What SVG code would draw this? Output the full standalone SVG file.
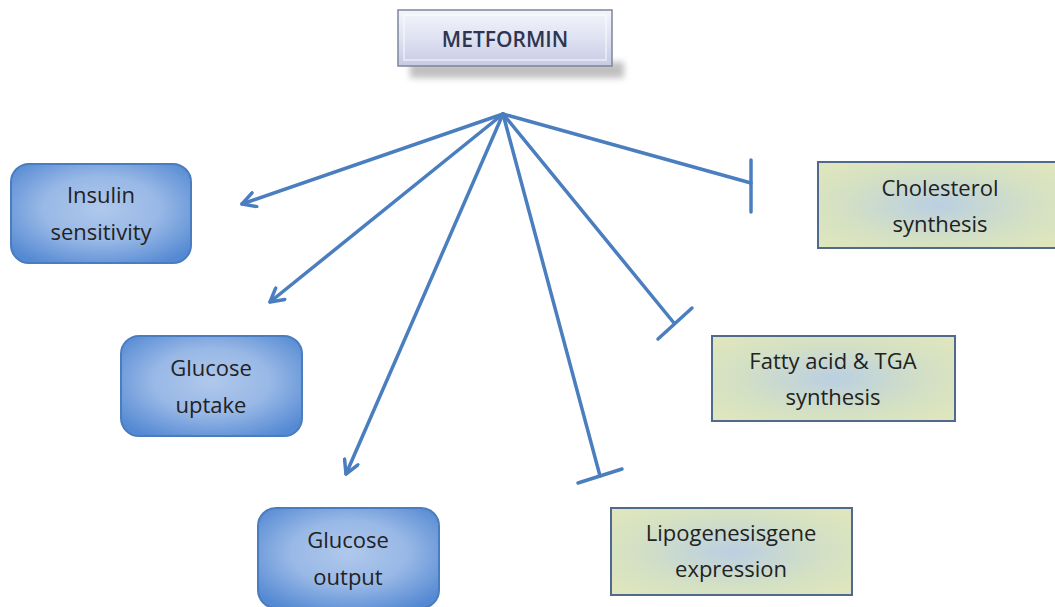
<svg xmlns="http://www.w3.org/2000/svg" width="1055" height="607" viewBox="0 0 1055 607">
<defs>
<radialGradient id="gBlue" cx="50%" cy="45%" r="65%">
<stop offset="0" stop-color="#b0c8ec"/>
<stop offset="0.5" stop-color="#98b8e6"/>
<stop offset="1" stop-color="#5489d3"/>
</radialGradient>
<radialGradient id="gGreen" cx="50%" cy="50%" r="65%">
<stop offset="0" stop-color="#bacfe2"/>
<stop offset="0.6" stop-color="#d3e0c4"/>
<stop offset="1" stop-color="#dfe6bd"/>
</radialGradient>
<linearGradient id="gMet" x1="0" y1="0" x2="0" y2="1">
<stop offset="0" stop-color="#f4f5fb"/>
<stop offset="0.5" stop-color="#dfe2f2"/>
<stop offset="1" stop-color="#c6cbe4"/>
</linearGradient>
<linearGradient id="gShadow" x1="0" y1="0" x2="0" y2="1">
<stop offset="0" stop-color="#a9a9a9"/>
<stop offset="1" stop-color="#ffffff" stop-opacity="0"/>
</linearGradient>
<filter id="blur" x="-10%" y="-50%" width="120%" height="200%">
<feGaussianBlur stdDeviation="3"/>
</filter>
<marker id="arr" viewBox="0 0 12 12" refX="10.5" refY="6" markerWidth="5" markerHeight="5" orient="auto" markerUnits="strokeWidth">
<path d="M1.5,1 L10.5,6 L1.5,11" fill="none" stroke="#4a7ebf" stroke-width="2.4" stroke-linecap="round" stroke-linejoin="round"/>
</marker>
</defs>
<style>
.txt{font-family:"Open Sans","Liberation Sans",sans-serif;font-size:22px;fill:#222222;text-anchor:middle}
.blue{fill:url(#gBlue);stroke:#4a7cc0;stroke-width:2}
.green{fill:url(#gGreen);stroke:#4f6a8c;stroke-width:2}
.ln{stroke:#4a7ebf;stroke-width:3.5;fill:none;stroke-linecap:round}
</style>
<rect x="0" y="0" width="1055" height="607" fill="#ffffff"/>

<g id="metformin">
<rect x="410" y="62" width="214" height="16" fill="#b0b0b0" filter="url(#blur)" opacity="0.8"/>
<rect x="398" y="10" width="214" height="56" fill="url(#gMet)" stroke="#7f859c" stroke-width="1.5"/>
<rect x="404" y="15" width="202" height="45" fill="none" stroke="#ffffff" stroke-opacity="0.6" stroke-width="1.5"/>
<text class="txt" x="505" y="47" style="font-size:21px;font-weight:600;fill:#2f3550">METFORMIN</text>
</g>

<g id="insulin">
<rect class="blue" x="11" y="164" width="180" height="99" rx="18"/>
<text class="txt" x="101" y="203">Insulin</text>
<text class="txt" x="101" y="240">sensitivity</text>
</g>

<g id="uptake">
<rect class="blue" x="121" y="336" width="181" height="100" rx="18"/>
<text class="txt" x="211" y="376">Glucose</text>
<text class="txt" x="211" y="413">uptake</text>
</g>

<g id="output">
<rect class="blue" x="258" y="508" width="181" height="100" rx="18"/>
<text class="txt" x="348" y="548">Glucose</text>
<text class="txt" x="348" y="585">output</text>
</g>

<g id="cholesterol">
<rect class="green" x="818" y="162" width="240" height="86"/>
<text class="txt" x="940" y="196">Cholesterol</text>
<text class="txt" x="940" y="232">synthesis</text>
</g>

<g id="fatty">
<rect class="green" x="712" y="336" width="243" height="85"/>
<text class="txt" x="833" y="369">Fatty acid &amp; TGA</text>
<text class="txt" x="833" y="405">synthesis</text>
</g>

<g id="lipogenesis">
<rect class="green" x="611" y="508" width="241" height="87"/>
<text class="txt" x="731" y="541">Lipogenesisgene</text>
<text class="txt" x="731" y="577">expression</text>
</g>

<g id="connectors">
<line class="ln" x1="503" y1="114" x2="242" y2="204" marker-end="url(#arr)"/>
<line class="ln" x1="503" y1="114" x2="270" y2="302" marker-end="url(#arr)"/>
<line class="ln" x1="503" y1="114" x2="346" y2="474" marker-end="url(#arr)"/>
<line class="ln" x1="503" y1="114" x2="751" y2="183"/>
<line class="ln" x1="751" y1="160" x2="751" y2="212"/>
<line class="ln" x1="503" y1="114" x2="674" y2="323"/>
<line class="ln" x1="658" y1="339" x2="692" y2="308"/>
<line class="ln" x1="503" y1="114" x2="600" y2="476"/>
<line class="ln" x1="578" y1="483" x2="622" y2="469"/>
</g>
</svg>
